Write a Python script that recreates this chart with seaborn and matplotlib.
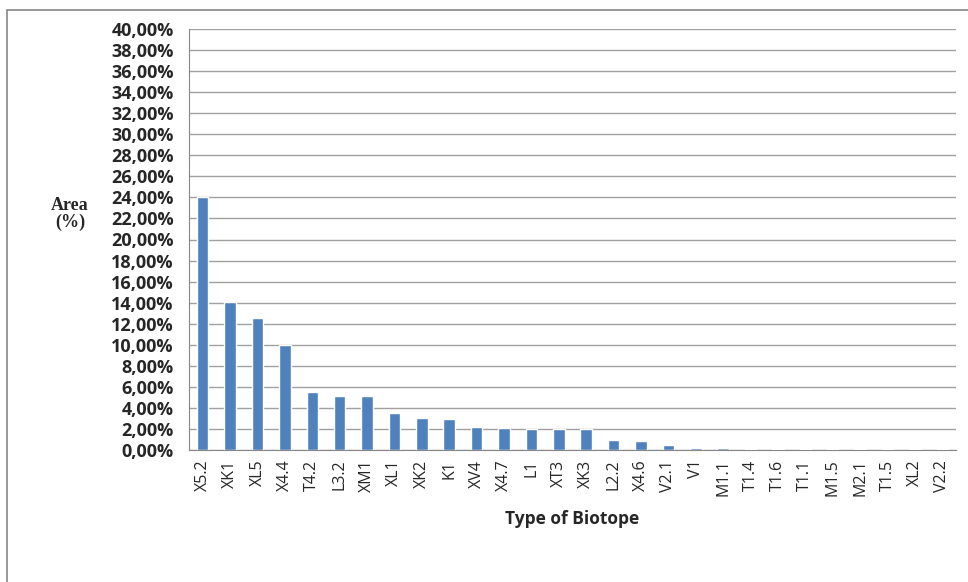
import pandas as pd
import seaborn as sns
import matplotlib.pyplot as plt
from matplotlib.patches import Rectangle
from matplotlib.ticker import FuncFormatter, MultipleLocator

# Biotope categories and their share of area (%)
biotopes = ["X5.2", "XK1", "XL5", "X4.4", "T4.2", "L3.2", "XM1", "XL1", "XK2", "K1",
            "XV4", "X4.7", "L1", "XT3", "XK3", "L2.2", "X4.6", "V2.1", "V1", "M1.1",
            "T1.4", "T1.6", "T1.1", "M1.5", "M2.1", "T1.5", "XL2", "V2.2"]
area_pct = [24.0, 14.1, 12.55, 10.0, 5.55, 5.15, 5.15, 3.55, 3.07, 2.98,
            2.22, 2.06, 1.97, 1.97, 1.97, 0.95, 0.88, 0.5, 0.16, 0.16,
            0.08, 0.06, 0.06, 0.06, 0.06, 0.06, 0.06, 0.06]

df = pd.DataFrame({"Biotope": biotopes, "Area": area_pct})

sns.set_style("white")
plt.rcParams['font.family'] = ['Open Sans', 'DejaVu Sans']

fig = plt.figure(figsize=(9.68, 5.82), dpi=100)
ax = fig.add_axes([189 / 968, 1 - 450 / 582, (956 - 189) / 968, (450 - 29) / 582])

sns.barplot(data=df, x="Biotope", y="Area", color="#4F81BD", saturation=1,
            width=0.42, ax=ax, zorder=3)

ax.set_ylim(0, 40)
ax.set_xlim(-0.5, len(biotopes) - 0.5)
ax.yaxis.set_major_locator(MultipleLocator(2))
ax.yaxis.set_major_formatter(FuncFormatter(lambda v, p: f"{v:.2f}".replace(".", ",") + "%"))
ax.grid(axis="y", color="#A0A0A0", linewidth=1, zorder=0)

for s in ["top", "right"]:
    ax.spines[s].set_visible(False)
ax.spines["left"].set_color("#868686")
ax.spines["bottom"].set_color("#868686")

# tick marks between categories, like the spreadsheet original
ax.set_xticks(range(len(biotopes)))
ax.set_xticklabels(biotopes, rotation=90, fontsize=11.5)
ax.set_xticks([i - 0.5 for i in range(len(biotopes) + 1)], minor=True)
ax.tick_params(axis="x", which="major", length=0, pad=7)
ax.tick_params(axis="x", which="minor", length=5, color="#868686", direction="out")
ax.tick_params(axis="y", length=5, color="#868686", direction="out", labelsize=13, pad=6)
for lbl in ax.get_yticklabels():
    lbl.set_fontweight("bold")

ax.set_xlabel("Type of Biotope", fontsize=12.5, fontweight="bold", labelpad=10)
ax.set_ylabel("")
fig.text(70 / 968, 1 - 214 / 582, "Area\n(%)", ha="center", va="center",
         fontsize=13, fontweight="bold", family="Liberation Serif", linespacing=1.05)

# outer chart border
fig.patches.append(Rectangle((7 / 968, -0.01), 1.0, 1 - 10 / 582 + 0.01,
                             transform=fig.transFigure, fill=False,
                             edgecolor="#868686", linewidth=1.2))

fig.savefig("out.png", dpi=100)
